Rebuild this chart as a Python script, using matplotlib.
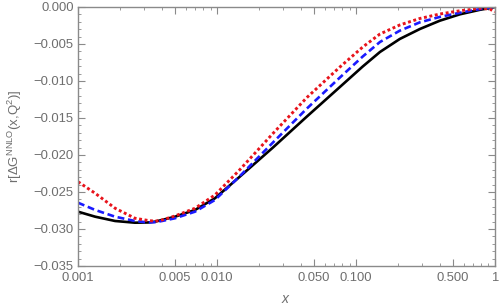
import numpy as np
import matplotlib
matplotlib.use("Agg")
import matplotlib.pyplot as plt
from matplotlib.ticker import FixedLocator, MultipleLocator, NullFormatter

# values
x = [0.001, 0.00133, 0.00185, 0.00257, 0.00319, 0.00358, 0.00402, 0.00499,
     0.00695, 0.00967, 0.0146, 0.0253, 0.0444, 0.0767, 0.112, 0.149, 0.207,
     0.289, 0.402, 0.560, 0.780, 0.920, 1.0]
black = [-0.02766, -0.02834, -0.02892, -0.02915, -0.02912, -0.02901, -0.02878,
         -0.02834, -0.02743, -0.02585, -0.02293, -0.01899, -0.01480, -0.01081,
         -0.00804, -0.00608, -0.00432, -0.00297, -0.00185, -0.00099, -0.00038,
         -0.00014, 0.0]
blue = [-0.02645, -0.02743, -0.02834, -0.02892, -0.02912, -0.02908, -0.02892,
        -0.02855, -0.02766, -0.02608, -0.02286, -0.01831, -0.01372, -0.00953,
        -0.00669, -0.00473, -0.00320, -0.00207, -0.00134, -0.00078, -0.00028,
        -0.00009, 0.0]
red = [-0.02361, -0.02518, -0.02720, -0.02855, -0.02885, -0.02895, -0.02878,
       -0.02824, -0.02720, -0.02541, -0.02199, -0.01709, -0.01223, -0.00811,
       -0.00541, -0.00365, -0.00243, -0.00155, -0.00095, -0.00051, -0.00018,
       -0.00027, -0.00068]

xticks = [0.001, 0.005, 0.010, 0.050, 0.100, 0.500, 1.0]
xticklabels = ["0.001", "0.005", "0.010", "0.050", "0.100", "0.500", "1"]
yticks = [0.000, -0.005, -0.010, -0.015, -0.020, -0.025, -0.030, -0.035]
yticklabels = ["0.000", "\u22120.005", "\u22120.010", "\u22120.015", "\u22120.020",
               "\u22120.025", "\u22120.030", "\u22120.035"]

plt.rcParams['font.family'] = ['Liberation Sans', 'DejaVu Sans']
plt.rcParams['mathtext.fontset'] = 'custom'
plt.rcParams['mathtext.rm'] = 'Liberation Sans'
plt.rcParams['mathtext.it'] = 'Liberation Sans:italic'

gray = '#8a8a8a'
txt = '#6e6e6e'

fig = plt.figure(figsize=(5.01, 3.07), dpi=100)
ax = fig.add_axes([0.1557, 0.1336, 0.832, 0.8436])

ax.plot(x, black, color='black', lw=1.9)
ax.plot(x, blue, color='#1a1aff', lw=1.9, ls=(0, (2.6, 1.4)))
ax.plot(x, red, color='#e8141c', lw=2.1, ls=(0, (1.0, 0.9)))

ax.set_xscale('log')
ax.set_xlim(0.001, 1.0)
ax.set_ylim(-0.035, 0.0)

ax.xaxis.set_major_locator(FixedLocator(xticks))
ax.set_xticklabels(xticklabels)
minors = [m * d for d in [0.001, 0.01, 0.1] for m in range(2, 10) if m != 5]
ax.xaxis.set_minor_locator(FixedLocator(minors))
ax.xaxis.set_minor_formatter(NullFormatter())

ax.yaxis.set_major_locator(FixedLocator(yticks))
ax.set_yticklabels(yticklabels)
ax.yaxis.set_minor_locator(MultipleLocator(0.001))

for s in ax.spines.values():
    s.set_color(gray)
    s.set_linewidth(1.0)
ax.tick_params(which='both', direction='in', top=True, right=True,
               color=gray, labelcolor=txt, labelsize=9.4)
ax.tick_params(which='major', length=5, width=0.8)
ax.tick_params(axis='x', which='major', pad=4)
ax.tick_params(axis='y', which='major', pad=3)
ax.tick_params(which='minor', length=2.5, width=0.6)

ax.set_xlabel('$x$', color=txt, fontsize=10, labelpad=6)
ax.set_ylabel(r'r[$\Delta$G$^{\rm NNLO}$(x,Q$^2$)]', color=txt, fontsize=9.5, labelpad=7)

fig.savefig('out.png', dpi=100)
